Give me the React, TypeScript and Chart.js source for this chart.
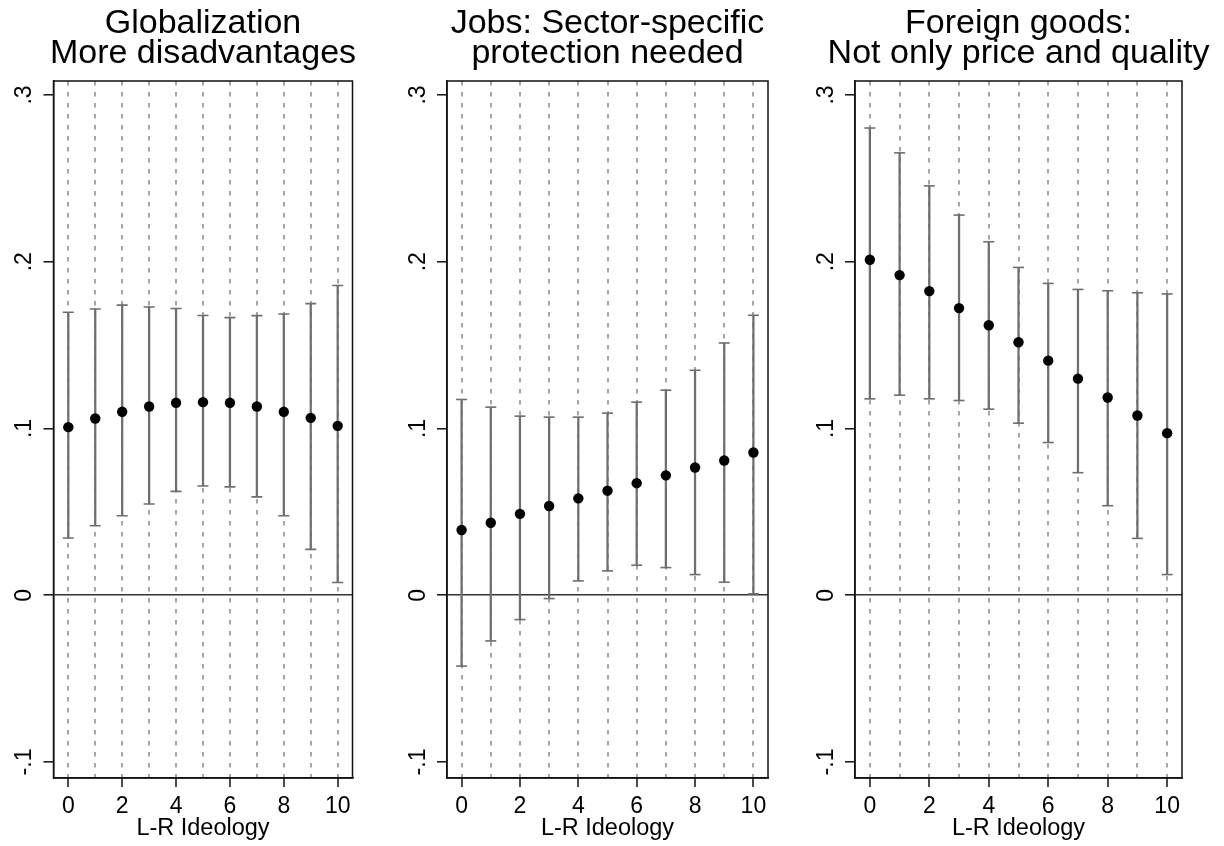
import React, { useEffect, useRef } from 'react';
import { Chart, registerables } from 'chart.js';

Chart.register(...registerables);

// ---------- data ----------
const ideology = [0, 1, 2, 3, 4, 5, 6, 7, 8, 9, 10];
const xTickValues = [0, 1, 2, 3, 4, 5, 6, 7, 8, 9, 10];
const xTickLabels = ['0', '', '2', '', '4', '', '6', '', '8', '', '10'];
const yTickValues = [-0.1, 0, 0.1, 0.2, 0.3];
const yTickLabels = ['-.1', '0', '.1', '.2', '.3'];
const xAxisTitle = 'L-R Ideology';
const yRange = [-0.1096, 0.3084];

const globalTitle = ['Globalization', 'More disadvantages'];
const globalEst = [0.1008, 0.106, 0.110, 0.1132, 0.1154, 0.1158, 0.1154, 0.1132, 0.110, 0.1064, 0.1016];
const globalLow = [0.0343, 0.0417, 0.0477, 0.0547, 0.0623, 0.0655, 0.065, 0.059, 0.0477, 0.0275, 0.0076];
const globalHigh = [0.1697, 0.1717, 0.174, 0.1729, 0.172, 0.1678, 0.1665, 0.1677, 0.1687, 0.1749, 0.1858];
const globalXRange = [-0.55, 10.55];

const jobsTitle = ['Jobs: Sector-specific', 'protection needed'];
const jobsEst = [0.0391, 0.0435, 0.0488, 0.0535, 0.0581, 0.0627, 0.0672, 0.0719, 0.0766, 0.0808, 0.0856];
const jobsLow = [-0.0425, -0.0274, -0.0146, -0.002, 0.0086, 0.0146, 0.018, 0.0166, 0.0124, 0.0078, 0.0008];
const jobsHigh = [0.1174, 0.1128, 0.1074, 0.1068, 0.1068, 0.1092, 0.1158, 0.123, 0.1349, 0.1513, 0.1679];
const jobsXRange = [-0.5, 10.5];

const foreignTitle = ['Foreign goods:', 'Not only price and quality'];
const foreignEst = [0.2012, 0.192, 0.1824, 0.1722, 0.1619, 0.1517, 0.1407, 0.1299, 0.1186, 0.1078, 0.0972];
const foreignLow = [0.1178, 0.12, 0.1178, 0.1168, 0.1116, 0.1032, 0.0916, 0.0735, 0.0537, 0.0341, 0.0124];
const foreignHigh = [0.2802, 0.2653, 0.2455, 0.228, 0.212, 0.1966, 0.187, 0.1834, 0.1826, 0.1814, 0.1807];
const foreignXRange = [-0.5, 10.5];

// ---------- layout / style ----------
const FONT = "'Liberation Sans', Arial, Helvetica, sans-serif";
const CANVAS_H = 846;
const panelBoxes = [
  { left: 0, width: 406, axisW: 53.5 },
  { left: 407, width: 401, axisW: 40 },
  { left: 813, width: 411, axisW: 42 },
];

const panels = [
  { title: globalTitle, est: globalEst, low: globalLow, high: globalHigh, xRange: globalXRange },
  { title: jobsTitle, est: jobsEst, low: jobsLow, high: jobsHigh, xRange: jobsXRange },
  { title: foreignTitle, est: foreignEst, low: foreignLow, high: foreignHigh, xRange: foreignXRange },
];

const ERR_COLOR = '#6e6e6e';

const framePlugin = {
  id: 'frame',
  afterDraw(chart: any) {
    const { ctx, chartArea: a } = chart;
    ctx.save();
    ctx.strokeStyle = '#111';
    ctx.lineWidth = 1.5;
    ctx.strokeRect(a.left, a.top, a.right - a.left, a.bottom - a.top);
    ctx.restore();
  },
};

function makeConfig(p: any, box: any): any {
  return {
    type: 'scatter',
    data: {
      datasets: [
        {
          type: 'scatter',
          label: 'estimate',
          data: p.est.map((v: number, i: number) => ({ x: ideology[i], y: v })),
          pointRadius: 5.2,
          pointStyle: 'circle',
          pointBackgroundColor: '#000',
          pointBorderWidth: 0,
          showLine: false,
          order: 0,
          yAxisID: 'y',
          xAxisID: 'x',
        },
        {
          type: 'scatter',
          label: 'low',
          data: p.low.map((v: number, i: number) => ({ x: ideology[i], y: v })),
          pointStyle: 'line',
          pointRadius: 5.5,
          pointBorderColor: ERR_COLOR,
          pointBorderWidth: 1.6,
          pointBackgroundColor: 'rgba(0,0,0,0)',
          showLine: false,
          order: 1,
          yAxisID: 'y',
          xAxisID: 'x',
        },
        {
          type: 'scatter',
          label: 'high',
          data: p.high.map((v: number, i: number) => ({ x: ideology[i], y: v })),
          pointStyle: 'line',
          pointRadius: 5.5,
          pointBorderColor: ERR_COLOR,
          pointBorderWidth: 1.6,
          pointBackgroundColor: 'rgba(0,0,0,0)',
          showLine: false,
          order: 1,
          yAxisID: 'y',
          xAxisID: 'x',
        },
        {
          type: 'bar',
          label: 'ci',
          data: p.low.map((v: number, i: number) => ({ x: ideology[i], y: [v, p.high[i]] })),
          barThickness: 1.6,
          backgroundColor: ERR_COLOR,
          borderWidth: 0,
          order: 2,
          yAxisID: 'y',
          xAxisID: 'x',
        },
      ],
    },
    options: {
      responsive: false,
      animation: false,
      events: [],
      layout: { padding: 0 },
      plugins: {
        legend: { display: false },
        tooltip: { enabled: false },
        title: {
          display: true,
          fullSize: true,
          text: p.title,
          color: '#000',
          font: { family: FONT, size: 34, weight: 'normal', lineHeight: '30px' },
          padding: { top: 8.7, bottom: 12.3 },
        },
      },
      scales: {
        x: {
          type: 'linear',
          position: 'bottom',
          min: p.xRange[0],
          max: p.xRange[1],
          offset: false,
          afterBuildTicks: (s: any) => {
            s.ticks = xTickValues.map((v) => ({ value: v }));
          },
          afterFit: (s: any) => {
            s.height = 68;
          },
          ticks: {
            autoSkip: false,
            minRotation: 0,
            maxRotation: 0,
            padding: 6.2,
            color: '#000',
            font: { family: FONT, size: 23 },
            callback: (_v: any, i: number) => xTickLabels[i],
          },
          grid: {
            display: true,
            offset: false,
            drawOnChartArea: true,
            drawTicks: true,
            tickLength: 9,
            color: '#a6a6a6',
            lineWidth: 2,
            tickColor: (c: any) => (xTickLabels[c.index] ? '#111' : 'rgba(0,0,0,0)'),
            tickWidth: 1.5,
          },
          border: { display: true, color: '#111', width: 1.5, dash: [4.5, 6.5] },
          title: {
            display: true,
            text: xAxisTitle,
            color: '#000',
            font: { family: FONT, size: 23.5 },
            padding: { top: 0, bottom: 3.3 },
          },
        },
        y: {
          type: 'linear',
          position: 'left',
          min: yRange[0],
          max: yRange[1],
          afterBuildTicks: (s: any) => {
            s.ticks = yTickValues.map((v) => ({ value: v }));
          },
          afterFit: (s: any) => {
            s.width = box.axisW;
          },
          ticks: {
            autoSkip: false,
            minRotation: 90,
            maxRotation: 90,
            crossAlign: 'center',
            padding: 5.1,
            color: '#000',
            font: { family: FONT, size: 23 },
            callback: (_v: any, i: number) => yTickLabels[i],
          },
          grid: {
            display: true,
            drawOnChartArea: true,
            drawTicks: true,
            tickLength: 10,
            color: (c: any) => (c.tick && Math.abs(c.tick.value) < 1e-9 ? '#333' : 'rgba(0,0,0,0)'),
            lineWidth: 1.6,
            tickColor: '#111',
            tickWidth: 1.5,
          },
          border: { display: true, color: '#111', width: 1.5 },
        },
        yRight: {
          type: 'linear',
          position: 'right',
          display: true,
          ticks: { display: false },
          grid: { display: false, drawTicks: false, drawOnChartArea: false },
          border: { display: false },
          afterFit: (s: any) => {
            s.width = box.axisW;
          },
        },
      },
    },
    plugins: [framePlugin],
  };
}

function Panel({ index }: { index: number }) {
  const ref = useRef<HTMLCanvasElement | null>(null);
  const box = panelBoxes[index];
  useEffect(() => {
    if (!ref.current) return;
    const chart = new Chart(ref.current, makeConfig(panels[index], box));
    return () => chart.destroy();
  }, [index]);
  return (
    <canvas
      ref={ref}
      width={box.width}
      height={CANVAS_H}
      style={{ position: 'absolute', left: box.left, top: 0, width: box.width, height: CANVAS_H }}
    />
  );
}

export default function App() {
  return (
    <div style={{ position: 'absolute', left: 0, top: 0, width: 1224, height: 846, background: '#fff', overflow: 'hidden' }}>
      <Panel index={0} />
      <Panel index={1} />
      <Panel index={2} />
    </div>
  );
}
